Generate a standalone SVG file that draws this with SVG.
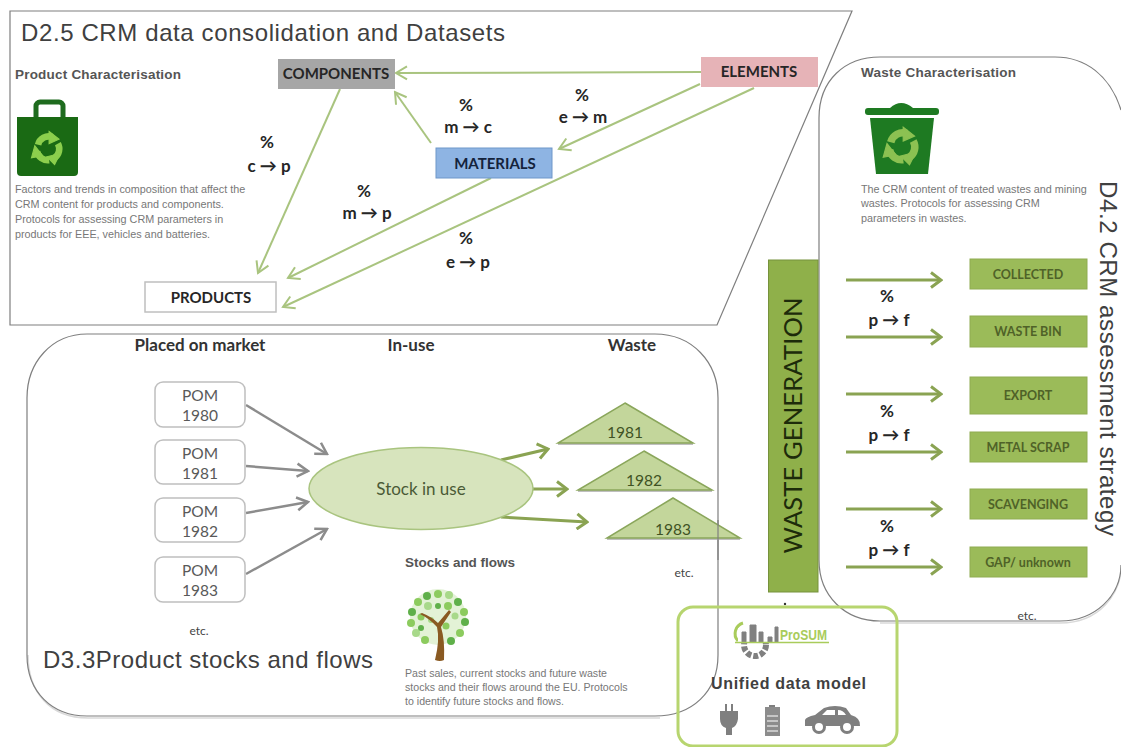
<svg xmlns="http://www.w3.org/2000/svg" xmlns:xlink="http://www.w3.org/1999/xlink" width="1121" height="747" viewBox="0 0 1121 747">
<style>
.frame{fill:none;stroke:#7f7f7f;stroke-width:1.2}
.shadow{fill:none;stroke:#d9d9d9;stroke-width:1.5}
.title{font-family:"Liberation Sans",Arial,sans-serif;font-size:24px;fill:#404040}
.head{font-family:"Liberation Sans",Arial,sans-serif;font-size:13.5px;font-weight:bold;fill:#555}
.para{font-family:"Liberation Sans",Arial,sans-serif;font-size:10.8px;fill:#777}
.lbl{font-family:Lato,"Liberation Sans",sans-serif;font-weight:bold;text-anchor:middle;fill:#262626}
.pct{font-family:Lato,"DejaVu Sans",sans-serif;font-weight:bold;font-size:17px;text-anchor:middle;fill:#262626}
.col{font-family:Lato,"Liberation Sans",sans-serif;font-weight:bold;font-size:17px;text-anchor:middle;fill:#333}
.pom{font-family:Lato,"Liberation Sans",sans-serif;font-size:15.5px;text-anchor:middle;fill:#595959}
.pombox{fill:#fff;stroke:#bfbfbf;stroke-width:1.5}
.yr{font-family:Lato,"Liberation Sans",sans-serif;font-size:15.5px;text-anchor:middle;fill:#3f5224}
.tri{fill:#c3d69b;stroke:#8aa65b;stroke-width:1.5}
.etc{font-family:Lato,"Liberation Sans",sans-serif;font-size:12px;text-anchor:middle;fill:#444}
.bin{fill:#9bbb59;stroke:#8fac52;stroke-width:1}
.bint{font-family:Lato,"Liberation Sans",sans-serif;font-weight:bold;font-size:12.5px;text-anchor:middle;fill:#4f6228}
.gl{fill:none;stroke:#a9c47f;stroke-width:2;marker-end:url(#ag)}
.gy{fill:none;stroke:#8c8c8c;stroke-width:2.5;marker-end:url(#ay)}
.dg{fill:none;stroke:#8aa352;stroke-width:3;marker-end:url(#ad)}
.icon{fill:#7f7f7f}
</style>
<defs>
<marker id="ag" markerUnits="userSpaceOnUse" markerWidth="16" markerHeight="16" viewBox="0 0 16 16" refX="14" refY="8" orient="auto"><path d="M3 1.5L14 8L3 14.500" fill="none" stroke="#a9c47f" stroke-width="2"/></marker>
<marker id="ay" markerUnits="userSpaceOnUse" markerWidth="16" markerHeight="16" viewBox="0 0 16 16" refX="14" refY="8" orient="auto"><path d="M3 1.500L14 8L3 14.500" fill="none" stroke="#8c8c8c" stroke-width="2.500"/></marker>
<marker id="ad" markerUnits="userSpaceOnUse" markerWidth="16" markerHeight="18" viewBox="0 0 16 18" refX="14" refY="9" orient="auto"><path d="M4 1.500L14 9L4 16.500" fill="none" stroke="#8aa352" stroke-width="3"/></marker>
<g id="recycle">
<path d="M-9 -3A10 10 0 0 1 4 -10" fill="none" stroke-width="6"/><path d="M1 -15L10 -8L1 -4Z"/>
<path d="M9 -4A10 10 0 0 1 6 9" fill="none" stroke-width="6"/><path d="M11 5L6 15L-1 8Z"/>
<path d="M1 11A10 10 0 0 1 -10 3" fill="none" stroke-width="6"/><path d="M-5 7L-15 9L-12 -2Z"/>
</g>
</defs>
<rect width="1121" height="747" fill="#fff"/>

<g id="panel-d25">
<path class="frame" d="M10 11H852L717 325H10Z"/>
<text class="title" x="21" y="41" textLength="484">D2.5 CRM data consolidation and Datasets</text>
</g>
<g id="panel-d42">
<path class="shadow" d="M880 623H1060C1098 623 1122 596 1122 560"/>
<path class="frame" d="M1121 110C1110 75 1085 57 1055 57H880C845 57 819 80 819 118V560C819 596 845 621 880 621H1060C1095 621 1121 596 1121 565"/>
<text class="title" transform="translate(1100,181) rotate(90)" textLength="355">D4.2 CRM assessment strategy</text>
</g>
<g id="panel-d33">
<path class="shadow" d="M28 655C28 692 50 718 88 718H660"/>
<path class="frame" d="M87 334H655C692 334 718 362 718 398V655C718 692 692 716 655 716H87C52 716 27 692 27 655V398C27 362 52 334 87 334Z"/>
<text class="title" x="43" y="668" textLength="330">D3.3Product stocks and flows</text>
</g>

<g id="product-characterisation">
<text class="head" x="15" y="79" textLength="166">Product Characterisation</text>
<rect x="36" y="102" width="27" height="22" rx="4" fill="none" stroke="#1e6b1e" stroke-width="5"/>
<path d="M17 117H78V172Q78 176 74 176H21Q17 176 17 172Z" fill="#1a6a14"/>
<use xlink:href="#recycle" href="#recycle" transform="translate(48,148) scale(1.1)" fill="#8ccf4d" stroke="#8ccf4d"/>
<text class="para"><tspan x="15" y="193">Factors and trends in composition that affect the</tspan><tspan x="15" y="208">CRM content for products and components.</tspan><tspan x="15" y="223">Protocols for assessing CRM parameters in</tspan><tspan x="15" y="238">products for EEE, vehicles and batteries.</tspan></text>
</g>

<g id="connectors">
<path class="gl" d="M701 72L396 73"/>
<path class="gl" d="M431 143L395 92"/>
<path class="gl" d="M340 89L258 273"/>
<path class="gl" d="M700 84L559 149"/>
<path class="gl" d="M491 178L288 278"/>
<path class="gl" d="M754 88L283 307"/>
<path class="gy" d="M246 405L327 454"/>
<path class="gy" d="M246 466L308 471"/>
<path class="gy" d="M246 513L308 502"/>
<path class="gy" d="M246 574L327 529"/>
<path class="dg" d="M501 460L548 449"/>
<path class="dg" d="M533 489L567 489"/>
<path class="dg" d="M501 517L587 522"/>
<path class="dg" d="M846 280H941"/>
<path class="dg" d="M846 337H941"/>
<path class="dg" d="M846 394H941"/>
<path class="dg" d="M846 452H941"/>
<path class="dg" d="M846 509H941"/>
<path class="dg" d="M846 567H941"/>
</g>

<g id="components"><rect x="278" y="59" width="117" height="30" fill="#a6a6a6"/><text class="lbl" x="336" y="79" font-size="15">COMPONENTS</text></g>
<g id="elements"><rect x="701" y="57" width="117" height="30" fill="#e6b3b7"/><text class="lbl" x="759" y="77" font-size="15">ELEMENTS</text></g>
<g id="materials"><rect x="436" y="148" width="116" height="30" fill="#8eb4e3" stroke="#6f97c9"/><text class="lbl" x="495" y="169" font-size="15" style="fill:#14233c">MATERIALS</text></g>
<g id="products"><rect x="145" y="282" width="131" height="30" fill="#fff" stroke="#bfbfbf" stroke-width="1.500"/><text class="lbl" x="211" y="303" font-size="15">PRODUCTS</text></g>

<g id="rates">
<text class="pct" x="267" y="148">%</text><text class="pct" x="269" y="172">c → p</text>
<text class="pct" x="364" y="197">%</text><text class="pct" x="367" y="219">m → p</text>
<text class="pct" x="466" y="111">%</text><text class="pct" x="468" y="133">m → c</text>
<text class="pct" x="582" y="101">%</text><text class="pct" x="583" y="123">e → m</text>
<text class="pct" x="466" y="244">%</text><text class="pct" x="468" y="268">e → p</text>
<text class="pct" x="887" y="302">%</text><text class="pct" x="889" y="326">p → f</text>
<text class="pct" x="887" y="417">%</text><text class="pct" x="889" y="441">p → f</text>
<text class="pct" x="887" y="532">%</text><text class="pct" x="889" y="556">p → f</text>
</g>

<g id="column-heads">
<text class="col" x="200" y="351">Placed on market</text>
<text class="col" x="411" y="351">In-use</text>
<text class="col" x="632" y="351">Waste</text>
</g>

<g id="pom-1980"><rect class="pombox" x="155" y="382" width="90" height="45" rx="8"/><text class="pom" x="200" y="401">POM</text><text class="pom" x="200" y="421">1980</text></g>
<g id="pom-1981"><rect class="pombox" x="155" y="440" width="90" height="44" rx="8"/><text class="pom" x="200" y="459">POM</text><text class="pom" x="200" y="479">1981</text></g>
<g id="pom-1982"><rect class="pombox" x="155" y="498" width="90" height="44" rx="8"/><text class="pom" x="200" y="517">POM</text><text class="pom" x="200" y="537">1982</text></g>
<g id="pom-1983"><rect class="pombox" x="155" y="557" width="90" height="45" rx="8"/><text class="pom" x="200" y="576">POM</text><text class="pom" x="200" y="596">1983</text></g>
<text class="etc" x="199" y="635">etc.</text>

<g id="stock-in-use"><ellipse cx="421" cy="488.500" rx="112" ry="41" fill="#d7e4bd" stroke="#a9c47f" stroke-width="1.500"/><text x="421" y="495" font-family="Lato,'Liberation Sans',sans-serif" font-size="17" text-anchor="middle" fill="#4a5a36">Stock in use</text></g>

<g id="waste-1981"><path d="M558 444H693" stroke="#bfbfbf" stroke-width="2"/><path class="tri" d="M625 403L693 443H558Z"/><text class="yr" x="625" y="438">1981</text></g>
<g id="waste-1982"><path d="M578 491H712" stroke="#bfbfbf" stroke-width="2"/><path class="tri" d="M644 451L712 490H578Z"/><text class="yr" x="644" y="486">1982</text></g>
<g id="waste-1983"><path d="M607 539H740" stroke="#bfbfbf" stroke-width="2"/><path class="tri" d="M673 498L740 538H607Z"/><text class="yr" x="673" y="535">1983</text></g>
<path class="frame" d="M718 520V560"/>
<text class="etc" x="684" y="577">etc.</text>

<g id="stocks-and-flows">
<text class="head" x="405" y="567" textLength="110">Stocks and flows</text>
<g fill="#8ccb5e">
<circle cx="438" cy="617" r="28" fill="#e3f2d6"/>
<circle cx="438" cy="594" r="4"/><circle cx="427" cy="596" r="4" fill="#5fb04a"/><circle cx="449" cy="595" r="4" fill="#a8d98a"/><circle cx="418" cy="602" r="4"/><circle cx="458" cy="602" r="4" fill="#5fb04a"/><circle cx="412" cy="612" r="4" fill="#5fb04a"/><circle cx="464" cy="612" r="4"/><circle cx="411" cy="623" r="4"/><circle cx="465" cy="622" r="4" fill="#5fb04a"/><circle cx="416" cy="633" r="4" fill="#a8d98a"/><circle cx="460" cy="633" r="4"/><circle cx="425" cy="640" r="4"/><circle cx="451" cy="641" r="4" fill="#5fb04a"/><circle cx="428" cy="606" r="4" fill="#a8d98a"/><circle cx="448" cy="606" r="4"/><circle cx="438" cy="606" r="3" fill="#5fb04a"/><circle cx="421" cy="617" r="3.500"/><circle cx="455" cy="616" r="3.500" fill="#a8d98a"/><circle cx="431" cy="620" r="3" fill="#a8d98a"/><circle cx="446" cy="626" r="3.500"/><circle cx="421" cy="628" r="3" fill="#5fb04a"/>
</g>
<path d="M435 660Q440 640 437 627Q430 619 420 614L422 613Q432 617 438 623L449 610L451 612L441 627Q445 640 444 660Q440 662 435 660Z" fill="#8a5a22"/>
<text class="para" style="font-size:10.6px"><tspan x="405" y="677">Past sales, current stocks and future waste</tspan><tspan x="405" y="691">stocks and their flows around the EU. Protocols</tspan><tspan x="405" y="705">to identify future stocks and flows.</tspan></text>
</g>

<g id="waste-characterisation">
<text class="head" x="861" y="77" textLength="155">Waste Characterisation</text>
<path d="M890 108Q901 98 913 108Z" fill="#1e7a22"/>
<rect x="865" y="108" width="74" height="7" rx="3" fill="#1e7a22"/>
<path d="M870 118H934L928 174H876Z" fill="#1e7a22"/>
<use xlink:href="#recycle" href="#recycle" transform="translate(902,146) scale(1.25)" fill="#8cc152" stroke="#8cc152"/>
<text class="para"><tspan x="861" y="193">The CRM content of treated wastes and mining</tspan><tspan x="861" y="207">wastes. Protocols for assessing CRM</tspan><tspan x="861" y="222">parameters in wastes.</tspan></text>
</g>

<g id="waste-generation"><rect x="768.500" y="260" width="49.500" height="332" fill="#8fb04a" stroke="#76923c" stroke-width="1"/><text transform="translate(802,425.500) rotate(-90)" font-family="Lato,'Liberation Sans',sans-serif" font-size="25.5" text-anchor="middle" fill="#1d2b0a" textLength="256">WASTE GENERATION</text></g>

<g id="collected"><rect class="bin" x="970" y="259" width="117" height="30"/><text class="bint" x="1028" y="279">COLLECTED</text></g>
<g id="waste-bin"><rect class="bin" x="970" y="316" width="117" height="31"/><text class="bint" x="1028" y="336">WASTE BIN</text></g>
<g id="export"><rect class="bin" x="970" y="377" width="117" height="37"/><text class="bint" x="1028" y="400">EXPORT</text></g>
<g id="metal-scrap"><rect class="bin" x="970" y="432" width="117" height="30"/><text class="bint" x="1028" y="452">METAL SCRAP</text></g>
<g id="scavenging"><rect class="bin" x="970" y="489" width="117" height="30"/><text class="bint" x="1028" y="509">SCAVENGING</text></g>
<g id="gap-unknown"><rect class="bin" x="970" y="547" width="117" height="30"/><text class="bint" x="1028" y="567">GAP/ unknown</text></g>
<text class="etc" x="1027" y="620">etc.</text>

<g id="unified-data-model">
<circle cx="785" cy="604" r="1.200" fill="#333"/>
<rect x="678" y="607" width="219" height="139" rx="15" fill="none" stroke="#b7d56f" stroke-width="3"/>
<path d="M743 623A11 11 0 0 0 738 641" fill="none" stroke="#a9cc5b" stroke-width="3"/>
<circle cx="755" cy="645" r="11" fill="none" stroke="#808080" stroke-width="6" stroke-dasharray="5 2"/>
<rect x="738" y="628" width="42" height="14" fill="#fff"/>
<path d="M742 642V632H746V642M750 642V625H756V642M759 642V632H763V642M768 642V637H772V642M775 642V627H778V642" fill="#808080" stroke="#808080" stroke-width="1"/>
<path d="M735 642.500H829" stroke="#a9cc5b" stroke-width="1.500"/>
<text x="780" y="640" font-family="Liberation Sans,sans-serif" font-size="15" font-weight="bold" fill="#a9cc5b" textLength="47" lengthAdjust="spacingAndGlyphs">ProSUM</text>
<text x="711" y="689" font-family="Liberation Sans,sans-serif" font-size="16" font-weight="bold" fill="#404040" textLength="155">Unified data model</text>
<g class="icon">
<path d="M720 711H725V704H727V711H731V704H733V711H738V719Q737 726 732 728V735H726V728Q720 726 720 719Z"/>
<rect x="769" y="705" width="6" height="3"/>
<path d="M765 707H780V736H765Z" fill="#8c8c8c"/>
<path d="M767 716H778M767 721H778M767 726H778M767 731H778" stroke="#d9d9d9" stroke-width="1.500"/>
<path d="M805 726V720Q806 717 815 715L824 708Q835 704 846 708L851 715Q861 718 860 726Z"/>
<path d="M822 715L827 710H835V715ZM838 715V710Q843 710 846 715Z" fill="#fff"/>
<circle cx="819" cy="727" r="5.500" fill="#fff" stroke="#7f7f7f" stroke-width="3"/>
<circle cx="847" cy="727" r="5.500" fill="#fff" stroke="#7f7f7f" stroke-width="3"/>
</g>
</g>
</svg>
